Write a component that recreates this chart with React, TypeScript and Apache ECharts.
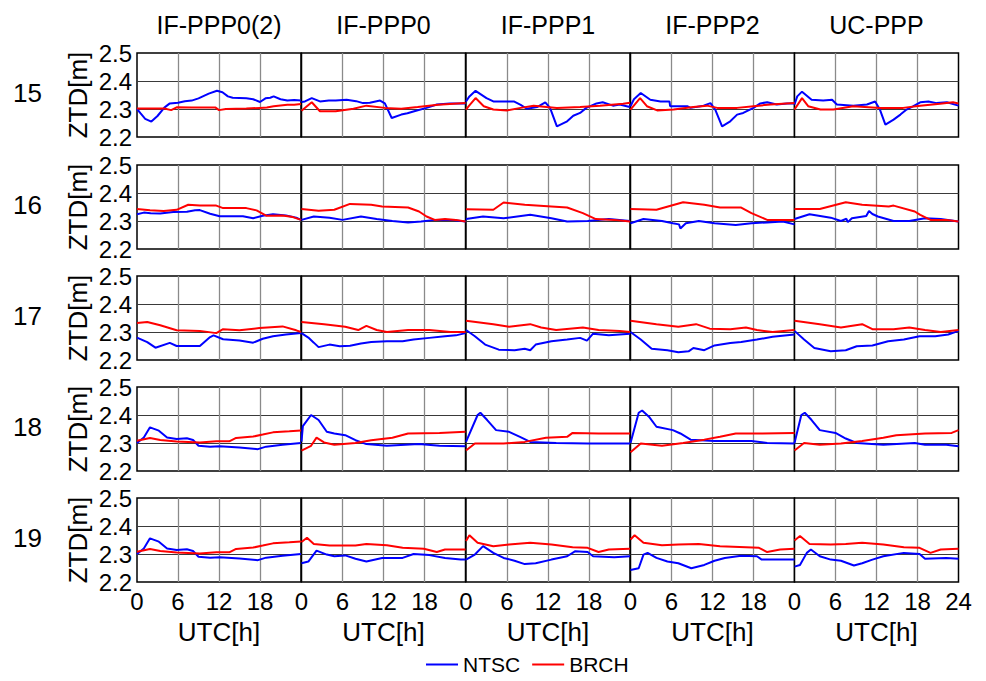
import React, { useEffect, useRef } from "react";
import * as echarts from "echarts";

const STRATEGIES = ["IF-PPP0(2)", "IF-PPP0", "IF-PPP1", "IF-PPP2", "UC-PPP"];
const DAYS = ["15", "16", "17", "18", "19"];
const X_TICKS = [0, 6, 12, 18, 24];
const Y_TICKS = [2.2, 2.3, 2.4, 2.5];
const LEGEND = ["NTSC", "BRCH"];

const ntsc15 = [
  [[0,2.3],[0.5,2.285],[1.2,2.265],[2.1,2.255],[3,2.275],[4,2.305],[4.8,2.32],[6,2.322],[7,2.328],[8,2.33],[9,2.338],[10.5,2.355],[11.7,2.365],[12.5,2.36],[13.3,2.345],[14,2.34],[16,2.338],[17,2.335],[18,2.325],[18.8,2.338],[19.5,2.34],[20,2.345],[21,2.335],[22,2.33],[23,2.332],[24,2.33]],
  [[0,2.325],[0.5,2.327],[1.5,2.339],[2.7,2.327],[4,2.33],[5,2.33],[6.6,2.333],[8,2.328],[9,2.321],[10,2.322],[11.5,2.33],[12.2,2.32],[13.2,2.268],[14.6,2.28],[15.5,2.285],[16.5,2.292],[18.3,2.304],[19.8,2.316],[21.7,2.32],[24,2.32]],
  [[0,2.327],[0.5,2.345],[1.4,2.365],[3,2.339],[4,2.327],[7,2.327],[8,2.315],[8.9,2.301],[10.4,2.307],[11.6,2.324],[12.3,2.304],[13.3,2.238],[14.8,2.256],[15.7,2.276],[16.7,2.286],[17.6,2.304],[19.1,2.32],[20,2.324],[21.5,2.312],[22.5,2.316],[23.8,2.308],[24,2.31]],
  [[0,2.31],[0.5,2.335],[1.5,2.357],[2.9,2.333],[4.4,2.327],[5.7,2.327],[5.8,2.31],[8.3,2.31],[8.8,2.304],[10.7,2.312],[11.7,2.321],[12.4,2.298],[13.4,2.238],[14.6,2.256],[15.6,2.28],[16.5,2.286],[18,2.304],[19,2.32],[20,2.324],[21.4,2.316],[22.9,2.32],[24,2.32]],
  [[0,2.316],[0.4,2.345],[1.1,2.362],[2.5,2.333],[4.2,2.33],[5.5,2.333],[6.2,2.316],[8.6,2.312],[10.6,2.316],[11.8,2.327],[12.5,2.298],[13.3,2.244],[14.5,2.262],[15.5,2.28],[16.4,2.298],[17.4,2.31],[18.4,2.324],[19.6,2.327],[20.8,2.321],[22.3,2.324],[24,2.312]],
];
const brch15 = [
  [[0,2.302],[2,2.302],[4,2.302],[5,2.296],[5.8,2.306],[8,2.305],[11.5,2.305],[12,2.296],[13,2.3],[16,2.302],[18,2.304],[19,2.305],[20,2.31],[22,2.315],[23,2.315],[24,2.318]],
  [[0,2.294],[1.5,2.324],[2.7,2.292],[5,2.292],[7.6,2.301],[9.5,2.312],[12.2,2.304],[14.6,2.301],[17,2.307],[20,2.315],[24,2.321]],
  [[0,2.298],[0.4,2.31],[1.4,2.339],[2.6,2.31],[4,2.298],[6,2.295],[8,2.304],[9.9,2.312],[11.8,2.307],[13.3,2.304],[16.7,2.307],[19.6,2.312],[23,2.319],[24,2.322]],
  [[0,2.298],[1.4,2.339],[2.4,2.31],[3.9,2.295],[6.3,2.298],[9.2,2.307],[11.2,2.312],[12.7,2.304],[15.6,2.304],[18,2.31],[20.5,2.316],[24,2.321]],
  [[0,2.298],[1.1,2.339],[2,2.31],[3.8,2.298],[5.7,2.298],[8.6,2.31],[12.5,2.304],[15.9,2.304],[18.4,2.312],[21.3,2.319],[23.2,2.324],[24,2.32]],
];

const ntsc16 = [
  [[0,2.324],[1,2.33],[2,2.328],[3.4,2.327],[5.3,2.332],[7.3,2.333],[8.5,2.338],[9.2,2.339],[10.7,2.326],[12.1,2.317],[15.5,2.317],[17,2.31],[18.4,2.319],[19.9,2.324],[21.8,2.32],[23.3,2.312],[24,2.304]],
  [[0,2.304],[1.8,2.316],[4.1,2.312],[6,2.304],[8.7,2.316],[11,2.307],[13.3,2.3],[15.6,2.295],[17.5,2.298],[19.5,2.304],[21.8,2.304],[24,2.298]],
  [[0,2.307],[2.5,2.316],[5.5,2.31],[9.4,2.322],[12.5,2.31],[14.8,2.298],[17.8,2.3],[20.9,2.307],[24,2.3]],
  [[0,2.292],[1.9,2.307],[4.6,2.3],[6.2,2.292],[7.1,2.288],[7.3,2.273],[8.1,2.292],[10,2.3],[12.3,2.292],[15.4,2.286],[17.7,2.292],[20,2.295],[22.3,2.298],[24,2.288]],
  [[0,2.307],[2.2,2.324],[5.3,2.312],[6.8,2.3],[7.6,2.308],[7.8,2.296],[8.4,2.31],[10.5,2.318],[10.9,2.336],[11.4,2.325],[12.2,2.316],[14.5,2.3],[16.8,2.3],[19.1,2.31],[21.4,2.307],[24,2.298]],
];
const brch16 = [
  [[0,2.343],[1.9,2.338],[3.9,2.336],[5.8,2.34],[7.5,2.358],[9.2,2.355],[11.6,2.355],[12.6,2.346],[16,2.346],[17.5,2.338],[18.9,2.319],[21.3,2.32],[22.8,2.314],[24,2.304]],
  [[0,2.343],[2.5,2.337],[4.8,2.34],[7.1,2.361],[10.2,2.358],[11.8,2.352],[15.6,2.348],[17.2,2.334],[18.3,2.316],[19.5,2.304],[21,2.307],[22.6,2.304],[24,2.298]],
  [[0,2.342],[4,2.34],[5.5,2.366],[8.6,2.358],[12.5,2.352],[14.8,2.348],[17.1,2.328],[19,2.307],[21.7,2.304],[24,2.298]],
  [[0,2.343],[3.8,2.34],[7.7,2.367],[10.8,2.358],[13.1,2.348],[16.2,2.348],[17.7,2.328],[20,2.304],[24,2.304]],
  [[0,2.343],[3.7,2.343],[7.5,2.367],[9.9,2.358],[13.8,2.352],[14.5,2.355],[17.6,2.334],[18.4,2.322],[19.9,2.304],[22.2,2.304],[24,2.298]],
];

const ntsc17 = [
  [[0,2.28],[1.5,2.264],[2.7,2.244],[4.8,2.261],[5.8,2.25],[9.2,2.25],[10.7,2.282],[11.2,2.288],[12.6,2.274],[15,2.27],[17,2.262],[18.4,2.276],[19.9,2.285],[21.8,2.291],[24,2.296]],
  [[0,2.296],[1,2.28],[1.8,2.262],[2.5,2.246],[4.1,2.255],[5.6,2.249],[7.1,2.251],[8.7,2.259],[10.2,2.264],[12.5,2.267],[14.8,2.267],[16.4,2.273],[18.7,2.279],[21,2.285],[22.6,2.288],[24,2.296]],
  [[0,2.307],[1.3,2.285],[2.8,2.255],[4.8,2.237],[7.1,2.235],[8.6,2.24],[9.4,2.235],[10.2,2.255],[12.5,2.267],[14.8,2.273],[16.7,2.279],[17.7,2.269],[18.6,2.294],[20.9,2.288],[24,2.294]],
  [[0,2.3],[1.5,2.273],[3.1,2.24],[5.4,2.235],[7,2.228],[8.5,2.231],[9.2,2.243],[10.8,2.235],[12.3,2.252],[14.6,2.261],[16.2,2.264],[18.5,2.273],[20.8,2.283],[24,2.291]],
  [[0,2.304],[1.4,2.273],[2.9,2.243],[5.3,2.231],[7.5,2.235],[9.1,2.249],[11.4,2.252],[13.7,2.267],[16,2.273],[18.3,2.285],[20.6,2.285],[22.5,2.291],[24,2.304]],
];
const brch17 = [
  [[0,2.332],[1.5,2.336],[3.4,2.324],[5.8,2.306],[9.2,2.304],[11.6,2.296],[12.6,2.31],[15,2.306],[17.9,2.314],[21.3,2.32],[23.3,2.306],[24,2.3]],
  [[0,2.336],[3.3,2.328],[6.4,2.319],[8.3,2.307],[9.5,2.322],[11,2.307],[12.5,2.3],[15.6,2.307],[18.7,2.307],[21.8,2.3],[24,2.3]],
  [[0,2.34],[4,2.328],[6.3,2.319],[9.4,2.328],[11,2.316],[13.2,2.307],[17.1,2.316],[19.4,2.307],[22.5,2.304],[24,2.3]],
  [[0,2.34],[3.8,2.328],[7,2.319],[9.6,2.328],[11.6,2.312],[14.6,2.31],[16.9,2.316],[18.5,2.307],[20.8,2.3],[24,2.307]],
  [[0,2.34],[3.7,2.328],[6.8,2.316],[9.9,2.328],[11.4,2.31],[14.5,2.31],[16.8,2.316],[19.1,2.307],[21.4,2.3],[24,2.307]],
];

const ntsc18 = [
  [[0,2.3],[1,2.32],[1.9,2.356],[3.2,2.344],[4.4,2.32],[5.8,2.314],[7.3,2.317],[8.2,2.311],[9,2.29],[10.7,2.287],[12.1,2.288],[15,2.284],[17.7,2.278],[18.9,2.287],[21.3,2.294],[24,2.3]],
  [[0,2.305],[0.2,2.36],[1.4,2.4],[2.5,2.382],[3.7,2.34],[4.8,2.334],[6.4,2.328],[7.9,2.31],[9.5,2.296],[12.5,2.29],[17.2,2.296],[20.2,2.29],[24,2.288]],
  [[0,2.304],[1.7,2.4],[2.1,2.408],[3.1,2.382],[4.4,2.346],[6.3,2.34],[7.9,2.322],[9.4,2.304],[13.2,2.3],[17.8,2.298],[24,2.298]],
  [[0,2.3],[1.2,2.408],[1.7,2.416],[2.7,2.394],[3.8,2.358],[6.2,2.346],[7.3,2.334],[8.8,2.312],[12.3,2.307],[17.7,2.307],[20,2.3],[24,2.298]],
  [[0,2.3],[1,2.4],[1.5,2.408],[2.5,2.382],[3.7,2.346],[6,2.336],[7.5,2.316],[9.1,2.3],[13,2.294],[17.6,2.3],[19.1,2.294],[22.2,2.294],[24,2.288]],
];
const brch18 = [
  [[0,2.308],[1.9,2.318],[3.4,2.311],[5.8,2.305],[9.2,2.302],[11.6,2.306],[13.5,2.306],[14.5,2.318],[17,2.323],[18.4,2.33],[19.9,2.338],[22.3,2.342],[24,2.345]],
  [[0,2.273],[1.4,2.29],[2.2,2.319],[3.3,2.302],[4.8,2.294],[7.9,2.3],[10.2,2.31],[13.3,2.319],[15.6,2.334],[20.2,2.336],[24,2.34]],
  [[0,2.273],[1.3,2.298],[5.5,2.298],[8.6,2.304],[11.7,2.319],[14.8,2.322],[15.6,2.336],[19.4,2.334],[24,2.334]],
  [[0,2.267],[1.5,2.298],[4.6,2.29],[7.7,2.3],[10.8,2.312],[13.1,2.322],[15.4,2.334],[19.3,2.334],[24,2.336]],
  [[0,2.273],[1.4,2.3],[3.7,2.294],[6.8,2.298],[9.9,2.307],[13,2.319],[14.9,2.328],[19.1,2.334],[23,2.336],[24,2.346]],
];

const ntsc19 = [
  [[0,2.3],[1,2.32],[1.9,2.356],[3.2,2.344],[4.4,2.32],[5.8,2.314],[7.3,2.317],[8.2,2.311],[9,2.29],[10.7,2.287],[12.1,2.288],[15,2.284],[17.7,2.278],[18.9,2.287],[21.3,2.294],[24,2.3]],
  [[0,2.267],[1,2.273],[2.2,2.312],[3.7,2.298],[4.8,2.292],[6.4,2.295],[7.9,2.283],[9.5,2.273],[11.8,2.286],[14.8,2.286],[16.4,2.3],[18.7,2.296],[21,2.286],[23.3,2.28],[24,2.28]],
  [[0,2.28],[1.3,2.298],[2.5,2.328],[4,2.304],[5.5,2.286],[7.1,2.276],[8.6,2.264],[10.2,2.267],[12.5,2.28],[14.8,2.292],[16,2.31],[17.8,2.307],[18.6,2.292],[21.7,2.288],[24,2.292]],
  [[0,2.243],[1.2,2.249],[1.9,2.298],[2.5,2.304],[3.8,2.286],[5.4,2.273],[7,2.267],[8.9,2.249],[10.8,2.261],[12.3,2.276],[13.8,2.286],[16.2,2.294],[18.5,2.292],[19.2,2.28],[24,2.28]],
  [[0,2.255],[0.8,2.261],[1.8,2.304],[2.4,2.316],[3.7,2.292],[5.3,2.28],[6.8,2.276],[8.7,2.259],[9.9,2.267],[11.4,2.28],[13,2.292],[16,2.304],[18.3,2.3],[19.1,2.283],[22.2,2.286],[24,2.283]],
];
const brch19 = [
  [[0,2.308],[1.9,2.318],[3.4,2.311],[5.8,2.305],[9.2,2.302],[11.6,2.306],[13.5,2.306],[14.5,2.318],[17,2.323],[18.4,2.33],[19.9,2.338],[22.3,2.342],[24,2.345]],
  [[0,2.343],[0.8,2.358],[1.8,2.336],[4.1,2.33],[7.9,2.33],[9.5,2.336],[12.5,2.331],[14.8,2.322],[17.9,2.319],[19.8,2.307],[21,2.316],[24,2.316]],
  [[0,2.346],[0.5,2.367],[1.7,2.34],[4,2.328],[6.3,2.334],[9.4,2.34],[12.5,2.334],[15.6,2.324],[17.8,2.322],[19.4,2.307],[20.9,2.316],[24,2.319]],
  [[0,2.352],[0.6,2.367],[1.9,2.34],[4.6,2.331],[7,2.334],[10,2.336],[13.1,2.328],[16.9,2.324],[18.8,2.322],[20,2.307],[21.9,2.316],[24,2.319]],
  [[0,2.348],[0.8,2.364],[2.2,2.336],[5.3,2.334],[7.5,2.336],[9.9,2.34],[13,2.334],[16,2.324],[18.3,2.322],[19.9,2.304],[21.4,2.316],[24,2.319]],
];

const NTSC_ROWS = [ntsc15, ntsc16, ntsc17, ntsc18, ntsc19];
const BRCH_ROWS = [brch15, brch16, brch17, brch18, brch19];

const FONT = "'Liberation Sans', Arial, Helvetica, sans-serif";
const COL_LEFT = [137, 301.5, 466, 630.5, 794.5];
const COL_W = 164;
const ROW_TOP = [53, 165, 276, 387, 498];
const ROW_H = 84;

function buildOption() {
  const grid: any[] = [];
  const xAxis: any[] = [];
  const yAxis: any[] = [];
  const series: any[] = [];
  const graphic: any[] = [];

  DAYS.forEach((day, r) => {
    STRATEGIES.forEach((_s, c) => {
      const i = r * 5 + c;
      grid.push({
        left: COL_LEFT[c], top: ROW_TOP[r], width: COL_W, height: ROW_H,
        show: true, borderColor: "#000", borderWidth: 1.5, backgroundColor: "#fff", z: 0,
      });
      const bottom = r === DAYS.length - 1;
      xAxis.push({
        type: "value", gridIndex: i, min: X_TICKS[0], max: X_TICKS[X_TICKS.length - 1], interval: 6,
        axisLine: { show: false }, axisTick: { show: false },
        axisLabel: {
          show: bottom, fontSize: 24, color: "#000", fontFamily: FONT, margin: 7,
          showMaxLabel: c === 4, showMinLabel: true,
        },
        splitLine: { show: true, showMinLine: false, showMaxLine: false, lineStyle: { color: "#8a8a8a", width: 1.3 } },
        name: bottom ? "UTC[h]" : "", nameLocation: "middle", nameGap: 37,
        nameTextStyle: { fontSize: 26, color: "#000", fontFamily: FONT },
      });
      yAxis.push({
        type: "value", gridIndex: i, min: Y_TICKS[0], max: Y_TICKS[Y_TICKS.length - 1], interval: 0.1,
        axisLine: { show: false }, axisTick: { show: false },
        axisLabel: {
          show: c === 0, fontSize: 24, color: "#000", fontFamily: FONT, margin: 5,
          formatter: (v: number) => v.toFixed(1),
        },
        splitLine: { show: true, showMinLine: false, showMaxLine: false, lineStyle: { color: "#3a3a3a", width: 1 } },
        name: c === 0 ? "ZTD[m]" : "", nameLocation: "middle", nameGap: 46, nameRotate: 90,
        nameTextStyle: { fontSize: 26, color: "#000", fontFamily: FONT },
      });
      series.push({
        name: LEGEND[0], type: "line", xAxisIndex: i, yAxisIndex: i,
        data: NTSC_ROWS[r][c], showSymbol: false, symbol: "none",
        lineStyle: { color: "#0000ff", width: 2 }, itemStyle: { color: "#0000ff" }, z: 3,
      });
      series.push({
        name: LEGEND[1], type: "line", xAxisIndex: i, yAxisIndex: i,
        data: BRCH_ROWS[r][c], showSymbol: false, symbol: "none",
        lineStyle: { color: "#ff0000", width: 2 }, itemStyle: { color: "#ff0000" }, z: 4,
      });
    });
    graphic.push({
      type: "text", left: 13, top: ROW_TOP[r] + ROW_H / 2 - 15,
      style: { text: day, fontSize: 26, fill: "#000", fontFamily: FONT },
    });
  });

  STRATEGIES.forEach((s, c) => {
    graphic.push({
      type: "text", x: COL_LEFT[c] + COL_W / 2, y: 25,
      style: { text: s, fontSize: 25, fill: "#000", fontFamily: FONT, align: "center", verticalAlign: "middle" },
    });
  });

  return {
    animation: false,
    backgroundColor: "#fff",
    grid, xAxis, yAxis, series, graphic,
    legend: {
      data: LEGEND, left: 421, top: 649, itemWidth: 32, itemHeight: 14, itemGap: 12,
      icon: "path://M0,7 L32,7 L32,9 L0,9 Z",
      textStyle: { fontSize: 21, color: "#000", fontFamily: FONT },
    },
  };
}

export default function App() {
  const ref = useRef<HTMLDivElement>(null);
  useEffect(() => {
    if (!ref.current) return;
    const chart = echarts.init(ref.current, undefined, { renderer: "svg" });
    chart.setOption(buildOption() as any);
    return () => chart.dispose();
  }, []);
  return <div ref={ref} style={{ position: "absolute", left: 0, top: 0, width: 986, height: 681, background: "#fff" }} />;
}
